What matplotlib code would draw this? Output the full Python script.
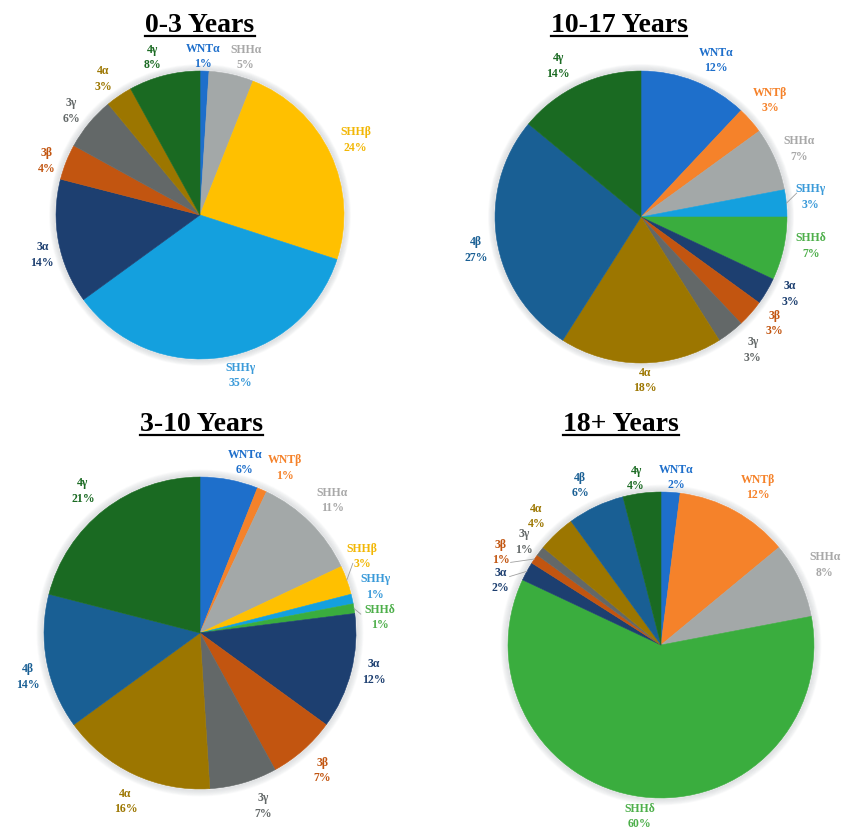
import matplotlib
matplotlib.use('Agg')
import matplotlib.pyplot as plt
import numpy as np
from matplotlib.lines import Line2D
from matplotlib.patches import Circle

W, H = 846, 832

# ---------------- data ----------------
cats_0_3 = ['WNTα', 'SHHα', 'SHHβ', 'SHHγ', '3α', '3β', '3γ', '4α', '4γ']
pct_0_3 = [1, 5, 24, 35, 14, 4, 6, 3, 8]

cats_10_17 = ['WNTα', 'WNTβ', 'SHHα', 'SHHγ', 'SHHδ', '3α', '3β', '3γ', '4α', '4β', '4γ']
pct_10_17 = [12, 3, 7, 3, 7, 3, 3, 3, 18, 27, 14]

cats_3_10 = ['WNTα', 'WNTβ', 'SHHα', 'SHHβ', 'SHHγ', 'SHHδ', '3α', '3β', '3γ', '4α', '4β', '4γ']
pct_3_10 = [6, 1, 11, 3, 1, 1, 12, 7, 7, 16, 14, 21]

cats_18 = ['WNTα', 'WNTβ', 'SHHα', 'SHHδ', '3α', '3β', '3γ', '4α', '4β', '4γ']
pct_18 = [2, 12, 8, 60, 2, 1, 1, 4, 6, 4]

titles = ['0-3 Years', '10-17 Years', '3-10 Years', '18+ Years']

# ---------------- styles ----------------
slice_colors = {
    'WNTα': '#1E6FCB', 'WNTβ': '#F5822A', 'SHHα': '#A3A8A8', 'SHHβ': '#FFC000',
    'SHHγ': '#14A0DE', 'SHHδ': '#3AAD3E', '3α': '#1D3F70', '3β': '#C25510',
    '3γ': '#636868', '4α': '#9C7600', '4β': '#195F94', '4γ': '#1A6A22',
}
label_colors = dict(slice_colors)
label_colors['SHHα'] = '#A8A8A8'
label_colors['SHHβ'] = '#F2B705'
label_colors['SHHγ'] = '#3A9AD9'
label_colors['SHHδ'] = '#4DAF4A'

# label placement: (angle shift in degrees, radius factor) per slice
lab_0_3 = [(0.7, 1.10), (-3.6, 1.14), (0.6, 1.20), (5, 1.15), (3.4, 1.13),
           (2.2, 1.13), (0.7, 1.15), (1.3, 1.16), (2.3, 1.14)]
lab_10_17 = [(-4.1, 1.19), (0.6, 1.19), (-0.2, 1.18), (1.3, 1.17), (2.9, 1.18),
             (3.3, 1.15), (2.8, 1.17), (2.3, 1.19), (1.4, 1.12), (2.3, 1.15), (3.6, 1.18)]
lab_3_10 = [(-3.9, 1.13), (-3.9, 1.19), (0, 1.20), (5.5, 1.15), (2.1, 1.16), (-4, 1.16),
            (1.7, 1.14), (0.3, 1.18), (3.8, 1.18), (1.3, 1.18), (3.5, 1.14), (1.7, 1.18)]
lab_18 = [(-1.5, 1.10), (-2.9, 1.21), (0.8, 1.19), (0.2, 1.13), (6.8, 1.13),
          (4.2, 1.21), (0.8, 1.12), (0.9, 1.17), (1.6, 1.17), (1.3, 1.10)]

panels = [
    dict(title=titles[0], cats=cats_0_3, vals=pct_0_3, center=(200, 215), r=144,
         tpos=(200, 32), lab=lab_0_3, leaders={}),
    dict(title=titles[1], cats=cats_10_17, vals=pct_10_17, center=(641, 217), r=146,
         tpos=(619, 32), lab=lab_10_17, leaders={'SHHγ': (-0.096, 0.027)}),
    dict(title=titles[2], cats=cats_3_10, vals=pct_3_10, center=(200, 633), r=156,
         tpos=(201, 431), lab=lab_3_10,
         leaders={'SHHβ': (-0.06, -0.045), 'SHHδ': (-0.125, 0.02)}),
    dict(title=titles[3], cats=cats_18, vals=pct_18, center=(661, 645), r=153,
         tpos=(621, 431), lab=lab_18,
         leaders={'3β': (0.065, -0.065), '3α': (0.058, 0.024)}),
]

serif = ['Liberation Serif', 'DejaVu Serif']

fig = plt.figure(figsize=(W / 100, H / 100), dpi=100)
fig.patch.set_facecolor('white')

S = 215
title_texts = []
for p in panels:
    cx, cy = p['center']
    r = p['r']
    ax = fig.add_axes([(cx - S) / W, (H - cy - S) / H, 2 * S / W, 2 * S / H])
    ax.patch.set_alpha(0)
    # soft shadow
    for k in range(7):
        ax.add_patch(Circle((0, 0), 1.0 + 0.006 * (k + 1), facecolor='none',
                            edgecolor='#8f969c', lw=1.3, alpha=0.16 - 0.02 * k, zorder=0))
    wedges, _ = ax.pie(p['vals'], colors=[slice_colors[c] for c in p['cats']], startangle=90,
                       counterclock=False, radius=1.0, wedgeprops=dict(linewidth=0.4))
    for w in wedges:
        w.set_edgecolor(w.get_facecolor())
    ax.set_xlim(-S / r, S / r)
    ax.set_ylim(-S / r, S / r)
    ax.set_aspect('equal')
    ax.axis('off')

    cum = np.concatenate([[0], np.cumsum(p['vals'])])
    for i, (c, v) in enumerate(zip(p['cats'], p['vals'])):
        mid = 90 - 3.6 * (cum[i] + v / 2)
        dang, rad = p['lab'][i]
        a = np.deg2rad(mid + dang)
        lx, ly = rad * np.cos(a), rad * np.sin(a)
        ax.text(lx, ly, f'{c}\n{v}%', ha='center', va='center', fontsize=8.5,
                fontweight='bold', family=serif, color=label_colors[c],
                linespacing=1.38)
        if c in p['leaders']:
            ddx, ddy = p['leaders'][c]
            m = np.deg2rad(mid)
            ax.add_line(Line2D([np.cos(m), lx + ddx], [np.sin(m), ly + ddy],
                               color='#A0A0A0', lw=0.6))

    tx, ty = p['tpos']
    t = fig.text(tx / W, 1 - ty / H, p['title'], ha='center', va='baseline',
                 fontsize=20, fontweight='bold', family=serif, color='black')
    title_texts.append((t, ty))

fig.canvas.draw()
renderer = fig.canvas.get_renderer()
for t, ty in title_texts:
    bb = t.get_window_extent(renderer)
    yline = (H - ty - 3.5) / H
    fig.add_artist(Line2D([bb.x0 / W, bb.x1 / W], [yline, yline],
                          transform=fig.transFigure, color='black', lw=1.6))

fig.savefig('out.png', dpi=100, facecolor='white')
